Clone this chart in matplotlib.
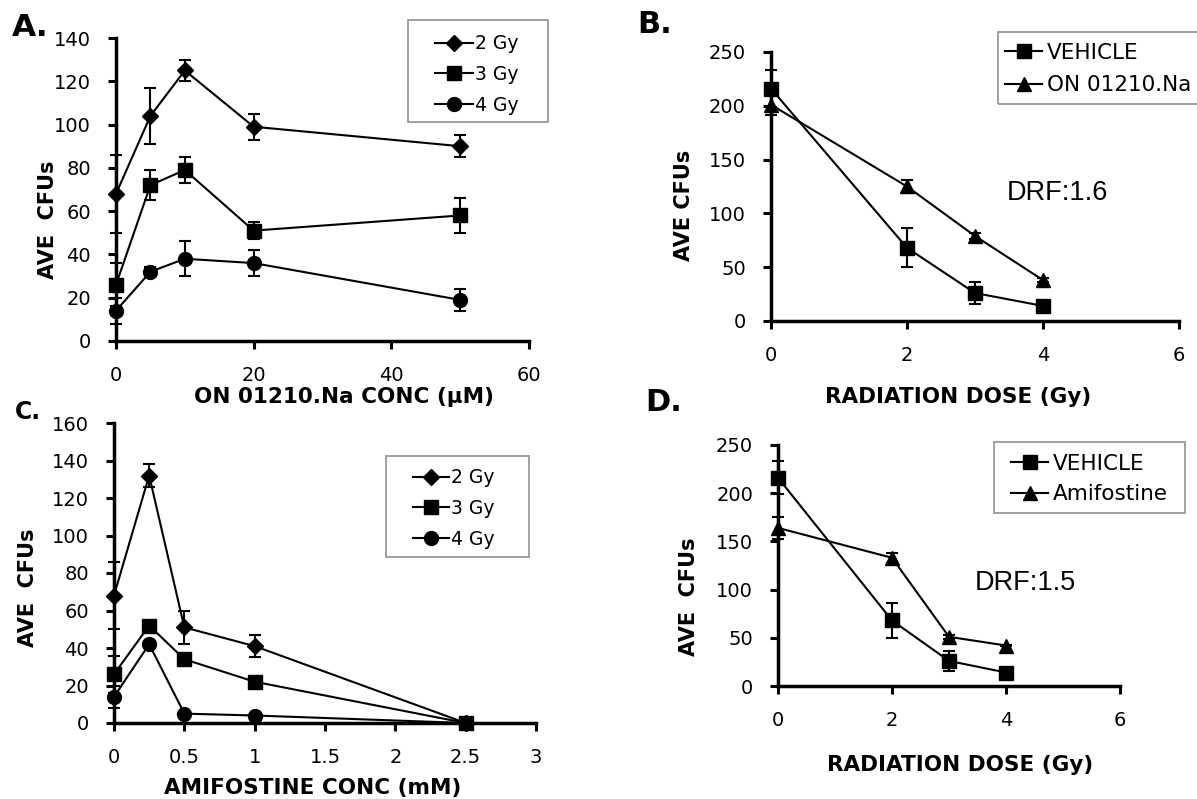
import matplotlib.pyplot as plt
from matplotlib.lines import Line2D
from matplotlib.patches import Rectangle

# panel A: ON 01210.Na concentration series
conc_a = [0, 5, 10, 20, 50]
a_2gy = [68, 104, 125, 99, 90]
a_2gy_err = [18, 13, 5, 6, 5]
a_3gy = [26, 72, 79, 51, 58]
a_3gy_err = [10, 7, 6, 4, 8]
a_4gy = [14, 32, 38, 36, 19]
a_4gy_err = [6, 2, 8, 6, 5]

# panel B: dose response with ON 01210.Na
dose = [0, 2, 3, 4]
vehicle = [216, 68, 26, 14]
vehicle_err = [17, 18, 10, 3]
on01210 = [201, 125, 79, 38]
on01210_err = [10, 6, 3, 2]

# panel C: amifostine concentration series
conc_c = [0, 0.25, 0.5, 1, 2.5]
c_2gy = [68, 132, 51, 41, 0]
c_2gy_err = [18, 6, 9, 6, 0]
c_3gy = [26, 52, 34, 22, 0]
c_3gy_err = [10, 2, 2, 1, 0]
c_4gy = [14, 42, 5, 4, 0]
c_4gy_err = [6, 1, 0, 0, 0]

# panel D: dose response with amifostine
amifostine = [164, 133, 51, 42]
amifostine_err = [11, 5, 2, 1]

plt.rcParams['font.family'] = 'DejaVu Sans'

W, H = 1197, 799
fig = plt.figure(figsize=(W / 100, H / 100), dpi=100)

MARK = {'D': 8, 's': 10, 'o': 10, '^': 10}


def style(ax, xlim, xticks, ylim, yticks, xlabel, xlab_xy, ylabel, ylab_xy):
    ax.set_xlim(*xlim)
    ax.set_ylim(*ylim)
    ax.set_xticks(xticks)
    ax.set_yticks(yticks)
    ax.set_xticklabels([('%g' % t) for t in xticks])
    for s in ('top', 'right'):
        ax.spines[s].set_visible(False)
    for s in ('left', 'bottom'):
        ax.spines[s].set_linewidth(2.5)
    ax.tick_params(axis='both', direction='out', length=6, width=2.2,
                   labelsize=14)
    ax.tick_params(axis='x', pad=12)
    ax.tick_params(axis='y', pad=12)
    ax.set_xlabel(xlabel, fontsize=15.5, fontweight='bold')
    ax.set_ylabel(ylabel, fontsize=15, fontweight='bold')
    ax.xaxis.set_label_coords(*xlab_xy)
    ax.yaxis.set_label_coords(*ylab_xy)


def series(ax, x, y, err, marker):
    ax.errorbar(x, y, yerr=err, color='black', marker=marker, ms=MARK[marker],
                lw=1.5, elinewidth=1.5, capsize=4.5, capthick=1.5,
                clip_on=False, zorder=3)


def legend(ax, labels, markers, anchor, box, fs, spacing, hlen, hpad):
    handles = [Line2D([], [], color='black', lw=1.5, marker=m, ms=MARK[m])
               for m in markers]
    ax.legend(handles, labels, loc='center left',
              bbox_to_anchor=(anchor[0] / W, 1 - anchor[1] / H),
              bbox_transform=fig.transFigure, frameon=False, fontsize=fs,
              handlelength=hlen, handletextpad=hpad, labelspacing=spacing,
              borderpad=0, borderaxespad=0)
    x0, y0, x1, y1 = box
    fig.patches.append(Rectangle((x0 / W, 1 - y1 / H), (x1 - x0) / W,
                                 (y1 - y0) / H, transform=fig.transFigure,
                                 fill=False, edgecolor='#9a9a9a', lw=1.3))


# ---- A ----
axA = fig.add_axes([116 / W, 1 - 341 / H, 413 / W, 303 / H])
series(axA, conc_a, a_2gy, a_2gy_err, 'D')
series(axA, conc_a, a_3gy, a_3gy_err, 's')
series(axA, conc_a, a_4gy, a_4gy_err, 'o')
style(axA, (0, 60), [0, 20, 40, 60], (0, 140), range(0, 141, 20),
      'ON 01210.Na CONC (\u03bcM)', (0.552, -0.152), 'AVE  CFUs', (-0.140, 0.40))
legend(axA, ['2 Gy', '3 Gy', '4 Gy'], ['D', 's', 'o'], (435, 74.5),
       (408, 20, 548, 122), 13.5, 0.62, 2.0, 0.15)

# ---- B ----
axB = fig.add_axes([771 / W, 1 - 321 / H, 408 / W, 269 / H])
series(axB, dose, vehicle, vehicle_err, 's')
series(axB, dose, on01210, on01210_err, '^')
style(axB, (0, 6), [0, 2, 4, 6], (0, 250), range(0, 251, 50),
      'RADIATION DOSE (Gy)', (0.458, -0.245), 'AVE CFUs', (-0.189, 0.431))
legend(axB, ['VEHICLE', 'ON 01210.Na'], ['s', '^'], (1005, 69),
       (998, 32, 1202, 104), 15.5, 0.6, 1.72, 0.23)
axB.text(3.47, 119, 'DRF:1.6', fontsize=19.5, family='Liberation Sans',
         ha='left', va='center')

# ---- C ----
axC = fig.add_axes([114 / W, 1 - 723 / H, 422 / W, 300 / H])
series(axC, conc_c, c_2gy, c_2gy_err, 'D')
series(axC, conc_c, c_3gy, c_3gy_err, 's')
series(axC, conc_c, c_4gy, c_4gy_err, 'o')
style(axC, (0, 3), [0, 0.5, 1, 1.5, 2, 2.5, 3], (0, 160), range(0, 161, 20),
      'AMIFOSTINE CONC (mM)', (0.472, -0.183), 'AVE  CFUs', (-0.18, 0.45))
legend(axC, ['2 Gy', '3 Gy', '4 Gy'], ['D', 's', 'o'], (413, 508.5),
       (386, 456, 529, 557), 13.5, 0.62, 1.9, 0.15)

# ---- D ----
axD = fig.add_axes([778 / W, 1 - 686 / H, 342 / W, 241 / H])
series(axD, dose, vehicle, vehicle_err, 's')
series(axD, dose, amifostine, amifostine_err, '^')
style(axD, (0, 6), [0, 2, 4, 6], (0, 250), range(0, 251, 50),
      'RADIATION DOSE (Gy)', (0.532, -0.286), 'AVE  CFUs', (-0.231, 0.369))
legend(axD, ['VEHICLE', 'Amifostine'], ['s', '^'], (1011, 479),
       (994, 442, 1185, 513), 15.5, 0.5, 1.72, 0.23)
axD.text(3.46, 107, 'DRF:1.5', fontsize=19.5, family='Liberation Sans',
         ha='left', va='center')

# panel letters
for lbl, x, y, fs in [('A.', 12, 13, 22.5), ('B.', 637, 10, 22),
                      ('C.', 15, 400, 17), ('D.', 645, 388, 22)]:
    fig.text(x / W, 1 - y / H, lbl, fontsize=fs, fontweight='bold',
             ha='left', va='top')

fig.savefig('out.png', dpi=100)
